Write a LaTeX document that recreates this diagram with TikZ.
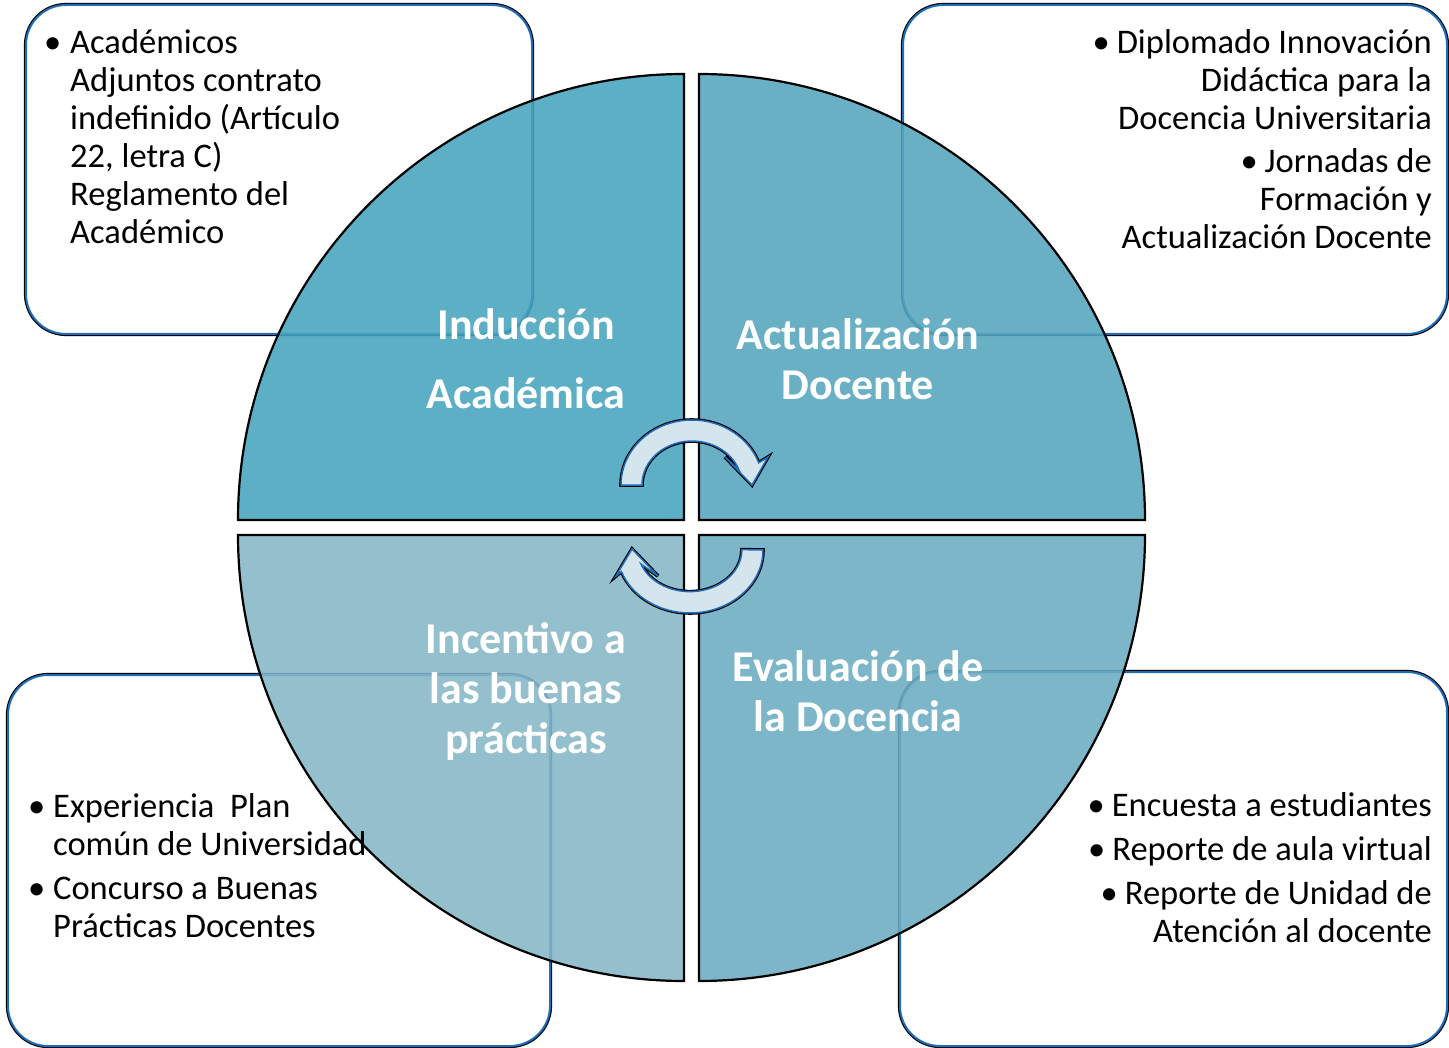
\documentclass[tikz,border=0pt]{standalone}
\usepackage{fontspec}
\setmainfont{Carlito}
\definecolor{quadTL}{HTML}{47A4BF}
\definecolor{quadTR}{HTML}{56A6BE}
\definecolor{quadBL}{HTML}{86B8C8}
\definecolor{quadBR}{HTML}{6CADC1}
\definecolor{rimblue}{HTML}{1F6DB8}
\definecolor{turnfill}{HTML}{D4E5EE}

\begin{document}
\begin{tikzpicture}[x=1pt,y=-1pt]
\tikzstyle{every node}=[inner sep=0pt]
\tikzstyle{infobox}=[fill=white, rounded corners=40pt, preaction={draw=black, line width=4.2pt}, draw=rimblue, line width=2pt]
\tikzstyle{quad}=[fill opacity=0.88, draw=black, line width=2.2pt]
\tikzstyle{turn}=[fill=turnfill, preaction={draw=black, line width=3.6pt}, draw=rimblue, line width=1.5pt, line join=miter]
\tikzstyle{item}=[font=\fontsize{34.5}{38}\selectfont, text=black]
\tikzstyle{title}=[font=\bfseries\fontsize{44}{50}\selectfont, text=white, align=center]
\useasboundingbox (0,0) rectangle (1449,1048);
\fill[white] (0,0) rectangle (1449,1048);
\draw[infobox] (26,5) rectangle (532,334);
\draw[infobox] (903,5) rectangle (1447,334);
\draw[infobox] (8,675) rectangle (550,1046);
\draw[infobox] (900,672) rectangle (1447,1046);
\draw[quad, fill=quadTL] (684,520) -- (238,520) arc[start angle=180, end angle=270, radius=446] -- cycle;
\draw[quad, fill=quadTR] (699,520) -- (699,74) arc[start angle=270, end angle=360, radius=446] -- cycle;
\draw[quad, fill=quadBL] (684,535) -- (684,981) arc[start angle=90, end angle=180, radius=446] -- cycle;
\draw[quad, fill=quadBR] (699,535) -- (1145,535) arc[start angle=0, end angle=90, radius=446] -- cycle;
\draw[turn] (621,485) arc[start angle=180, end angle=340, x radius=71, y radius=65] -- (768,457) -- (752,485) -- (725,457) -- (739,470) arc[start angle=340, end angle=180, x radius=50, y radius=44] -- cycle;
\draw[turn] (763,550) arc[start angle=0, end angle=160, x radius=73, y radius=63] -- (616,576) -- (632,549) -- (658,576) -- (641,564) arc[start angle=160, end angle=0, x radius=52, y radius=42] -- cycle;
\draw (526,359) node (induccion) [title] {Inducción\\[19pt]Académica};
\draw (858,359) node (actualizacion) [title] {Actualización\\Docente};
\draw (526,691) node (incentivo) [title] {Incentivo a\\las buenas\\prácticas};
\draw (858,691) node (evaluacion) [title] {Evaluación de\\la Docencia};
\draw (70,27) node (listTL) [item, anchor=north west, align=left] {\strut\llap{•\hspace{9pt}}Académicos\\Adjuntos contrato\\indefinido (Artículo\\22, letra C)\\Reglamento del\\Académico};
\draw (1432,27) node (listTR) [item, anchor=north east, align=right] {\strut•\hspace{7pt}Diplomado Innovación\\Didáctica para la\\Docencia Universitaria\\[5pt]•\hspace{7pt}Jornadas de\\Formación y\\Actualización Docente};
\draw (53,791) node (listBL) [item, anchor=north west, align=left] {\strut\llap{•\hspace{8pt}}Experiencia\ \ Plan\\común de Universidad\\[6pt]\llap{•\hspace{8pt}}Concurso a Buenas\\Prácticas Docentes};
\draw (1432,790) node (listBR) [item, anchor=north east, align=right] {\strut•\hspace{7pt}Encuesta a estudiantes\\[6pt]•\hspace{7pt}Reporte de aula virtual\\[6pt]•\hspace{7pt}Reporte de Unidad de\\Atención al docente};
\end{tikzpicture}
\end{document}
